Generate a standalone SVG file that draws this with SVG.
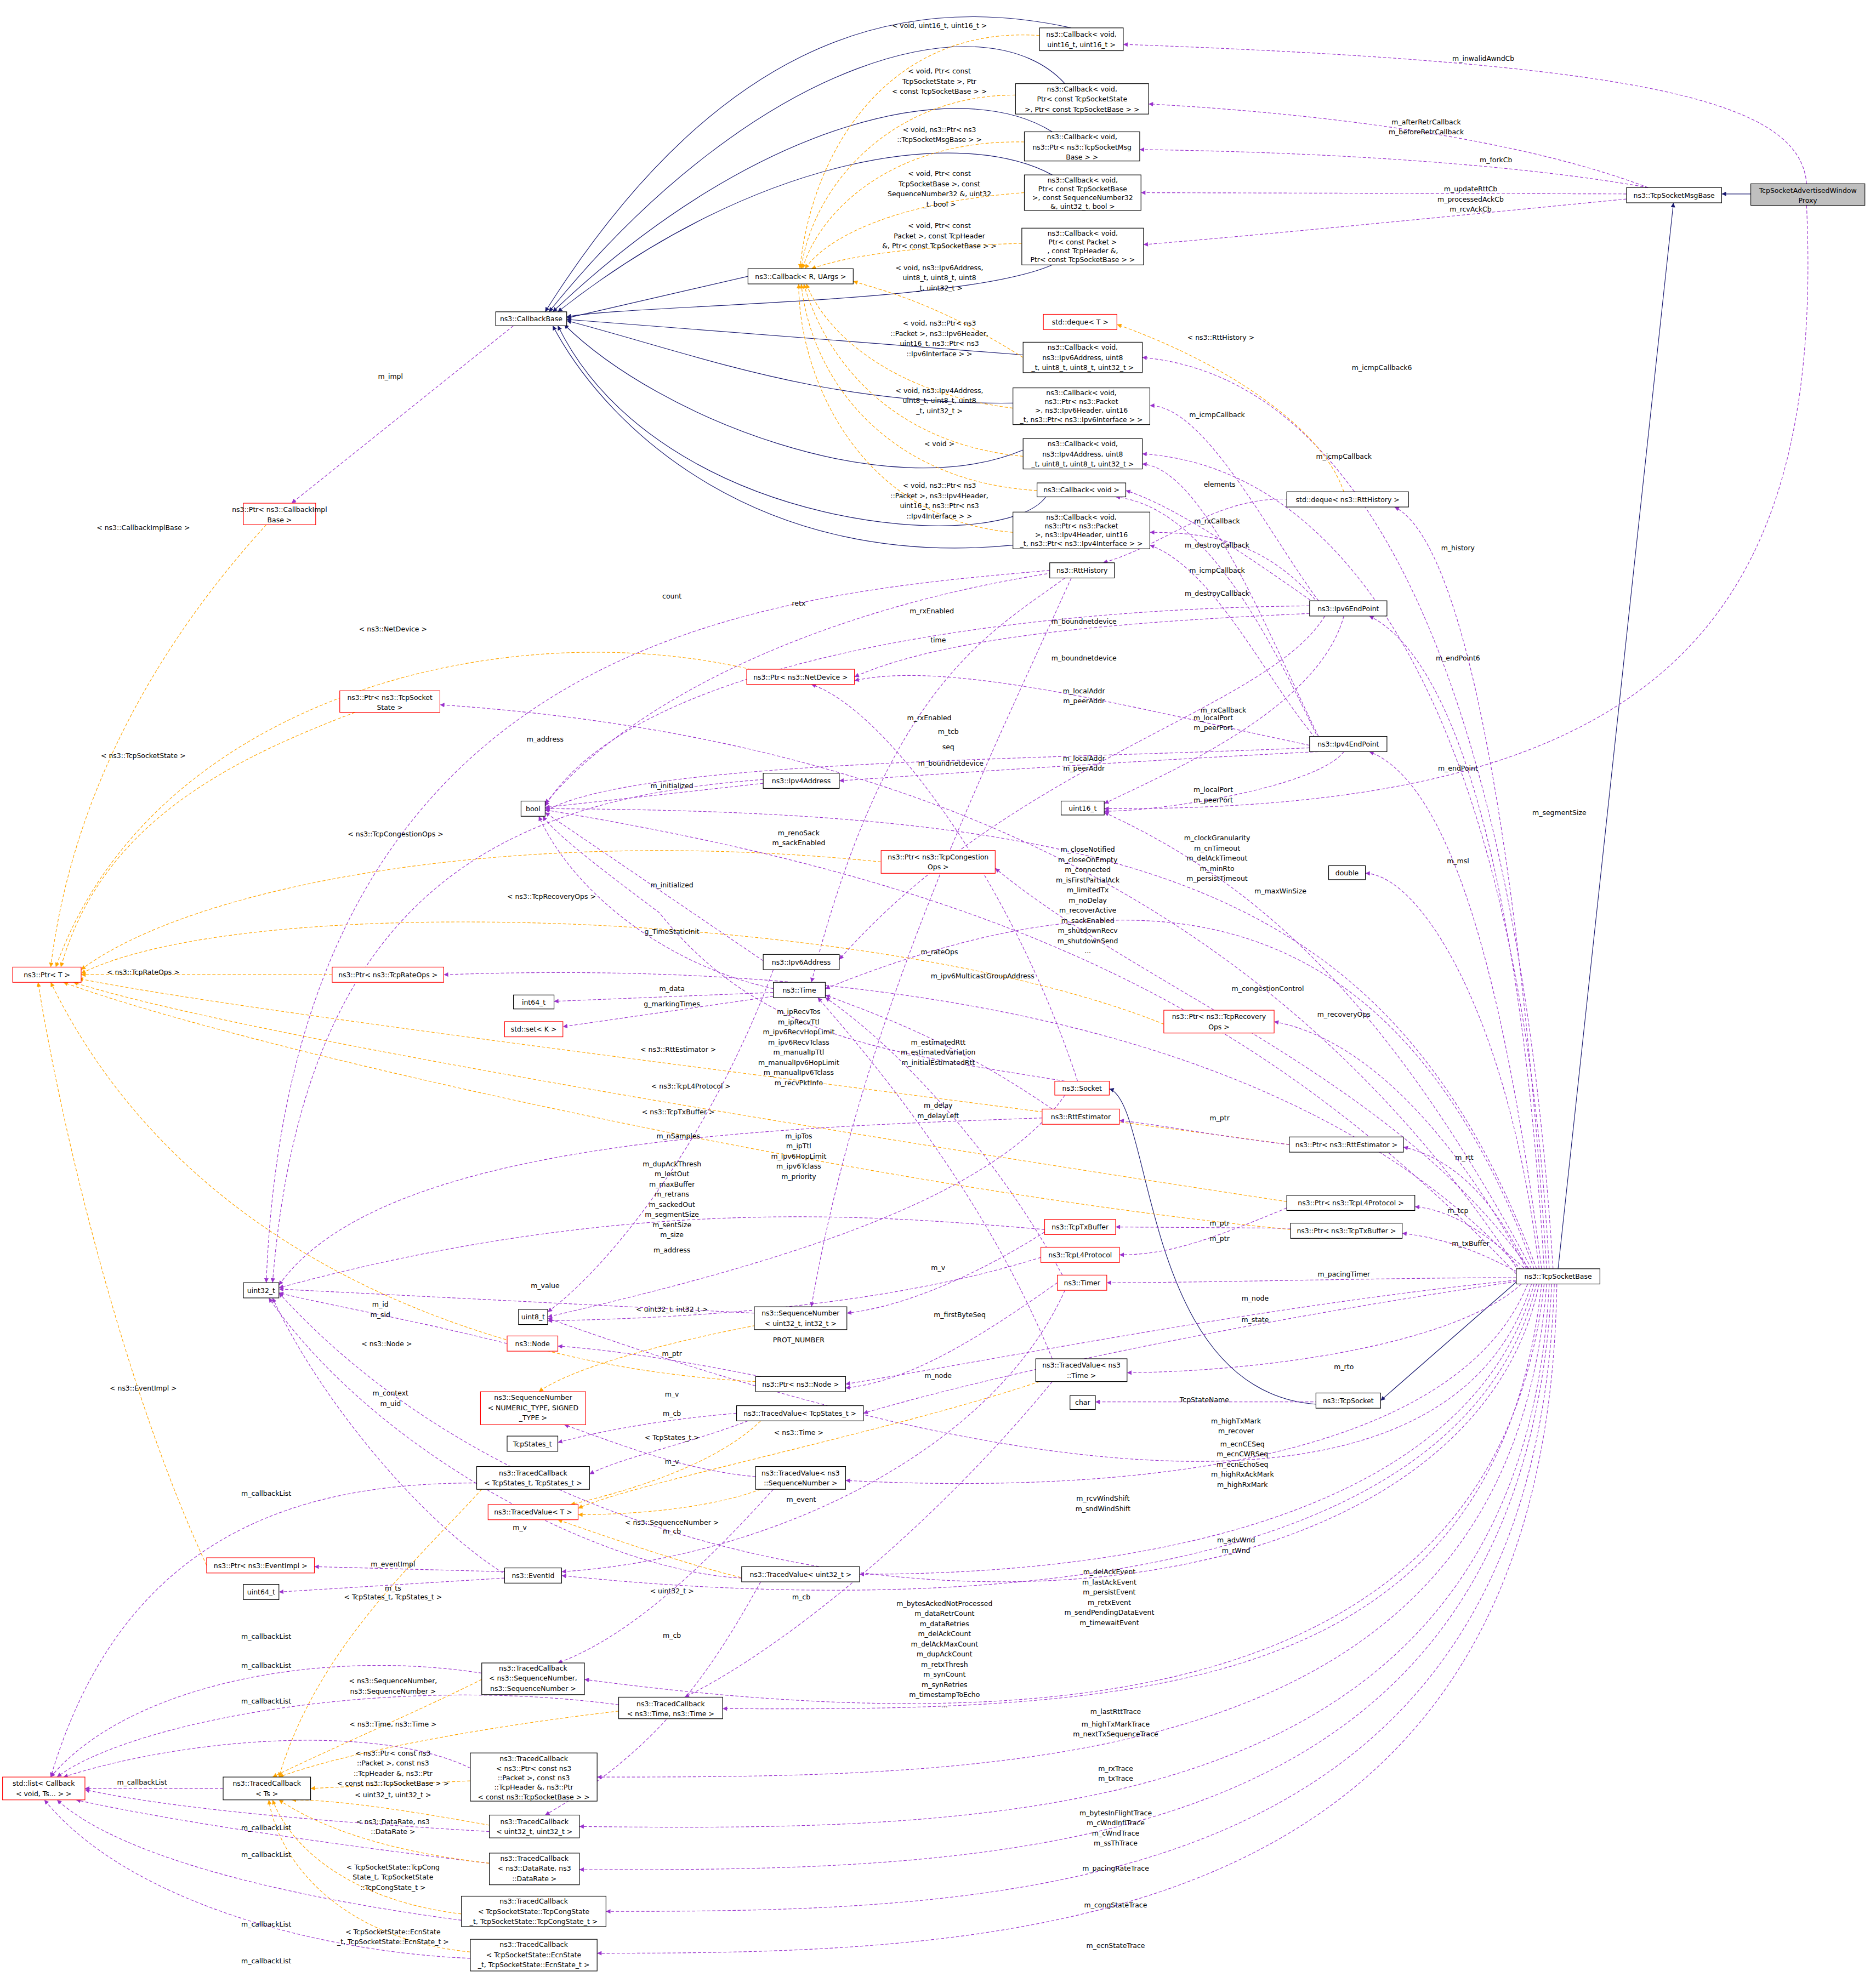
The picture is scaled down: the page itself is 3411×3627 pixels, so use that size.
<svg xmlns="http://www.w3.org/2000/svg" width="3411" height="3627" viewBox="0 0 3411 3627">
<style>
.b{fill:#fff;stroke:#000;stroke-width:0.5}
.r{fill:#fff;stroke:#f00;stroke-width:0.5}
.g{fill:#bfbfbf;stroke:#000;stroke-width:0.5}
text{font-family:"DejaVu Sans","Liberation Sans",sans-serif;font-size:5.4px;fill:#000}
.t{text-anchor:middle}
.p{fill:none;stroke:#9a32cd;stroke-width:0.5;stroke-dasharray:2.5,1.5;marker-end:url(#mp)}
.o{fill:none;stroke:#ffa500;stroke-width:0.5;stroke-dasharray:2.5,1.5;marker-end:url(#mo)}
.n{fill:none;stroke:#191970;stroke-width:0.5;marker-end:url(#mn)}
</style>
<defs>
<marker id="mp" markerUnits="userSpaceOnUse" viewBox="0 0 10 10" refX="10" refY="5" markerWidth="4.5" markerHeight="3.5" orient="auto"><path d="M0,0L10,5L0,10z" fill="#9a32cd"/></marker>
<marker id="mo" markerUnits="userSpaceOnUse" viewBox="0 0 10 10" refX="10" refY="5" markerWidth="4.5" markerHeight="3.5" orient="auto"><path d="M0,0L10,5L0,10z" fill="#ffa500"/></marker>
<marker id="mn" markerUnits="userSpaceOnUse" viewBox="0 0 10 10" refX="10" refY="5" markerWidth="4.5" markerHeight="3.5" orient="auto"><path d="M0,0L10,5L0,10z" fill="#191970"/></marker>
</defs>
<rect width="3411" height="3627" fill="#fff"/>
<g transform="scale(2.3125)">
<g id="edges">
<path class="n" d="M1381,153L1358,153"/>
<path class="n" d="M1229,1001L1320,160"/>
<path class="n" d="M1200,1008L1089,1105"/>
<path class="n" d="M1040,1108C900,1100 910,870 875,859"/>
<path class="n" d="M845,22C700,-10 560,40 430,246"/>
<path class="n" d="M840,66C780,0 600,40 433,246"/>
<path class="n" d="M830,104C760,60 600,90 436,246"/>
<path class="n" d="M830,138C760,100 600,120 440,246"/>
<path class="n" d="M830,209C760,240 500,240 447,250"/>
<path class="n" d="M590,218L447,251"/>
<path class="n" d="M807,280L447,252"/>
<path class="n" d="M800,318C650,320 550,280 447,253"/>
<path class="n" d="M807,355C700,400 520,330 445,256"/>
<path class="n" d="M825,392C790,440 520,420 440,257"/>
<path class="n" d="M800,430C600,450 480,340 436,257"/>
<path class="o" d="M820,28C700,20 640,120 631,212"/>
<path class="o" d="M801,75C700,75 640,150 632,212"/>
<path class="o" d="M808,112C700,110 645,170 633,212"/>
<path class="o" d="M808,152C700,160 650,190 635,212"/>
<path class="o" d="M806,192C700,195 660,205 640,212"/>
<path class="o" d="M807,282C740,240 700,230 673,222"/>
<path class="o" d="M799,322C700,310 650,260 636,224"/>
<path class="o" d="M807,360C700,350 650,280 634,224"/>
<path class="o" d="M818,387C700,380 640,300 632,224"/>
<path class="o" d="M799,420C680,410 630,300 630,224"/>
<path class="p" d="M1425,145C1420,80 1300,50 886,35"/>
<path class="p" d="M1300,148C1200,110 1050,90 906,82"/>
<path class="p" d="M1300,148C1200,130 1050,120 899,118"/>
<path class="p" d="M1283,153L900,152"/>
<path class="p" d="M1283,157C1150,170 1000,185 902,193"/>
<path class="p" d="M1225,1001C1200,600 1100,300 901,282"/>
<path class="p" d="M1222,1001C1200,600 1080,370 901,358"/>
<path class="p" d="M1220,1001C1200,700 1160,430 1100,400"/>
<path class="p" d="M1218,1001C1200,700 1150,520 1080,486"/>
<path class="p" d="M1216,1001C1190,800 1150,620 1080,593"/>
<path class="p" d="M1425,162C1440,500 1300,640 871,638"/>
<path class="p" d="M1214,1001C1190,800 1120,690 1077,689"/>
<path class="p" d="M1212,1001C1100,700 900,640 430,638"/>
<path class="p" d="M1210,1001C1100,700 900,680 651,780"/>
<path class="p" d="M1208,1001C1100,800 1000,700 871,641"/>
<path class="p" d="M1206,1001C1100,850 900,780 785,685"/>
<path class="p" d="M1204,1001C1150,900 1080,820 1005,806"/>
<path class="p" d="M1205,1001C1180,950 1150,915 1107,905"/>
<path class="p" d="M1205,1003C1180,980 1150,955 1116,952"/>
<path class="p" d="M1200,1005C1180,995 1150,978 1106,973"/>
<path class="p" d="M1196,1008C1100,1008 950,1012 873,1012"/>
<path class="p" d="M1196,1010C1000,1030 800,1070 667,1092"/>
<path class="p" d="M1196,1011C1000,1040 800,1080 681,1115"/>
<path class="p" d="M1200,1013C1150,1060 1000,1082 889,1083"/>
<path class="p" d="M1205,1013C1150,1150 900,1180 667,1168"/>
<path class="p" d="M1208,1013C1150,1200 850,1190 432,1040"/>
<path class="p" d="M1210,1013C1150,1230 800,1242 678,1242"/>
<path class="p" d="M1212,1013C1150,1270 700,1270 443,1243"/>
<path class="p" d="M1214,1013C1150,1320 500,1330 220,1020"/>
<path class="p" d="M1216,1013C1180,1340 900,1350 570,1348"/>
<path class="p" d="M1218,1013C1180,1360 800,1370 461,1325"/>
<path class="p" d="M1220,1013C1190,1400 800,1402 471,1402"/>
<path class="p" d="M1222,1013C1200,1440 800,1445 457,1441"/>
<path class="p" d="M1224,1013C1200,1470 800,1476 457,1475"/>
<path class="p" d="M1226,1013C1210,1500 800,1508 478,1508"/>
<path class="p" d="M1228,1013C1220,1530 800,1541 471,1541"/>
<path class="p" d="M1040,1106L864,1106"/>
<path class="p" d="M1040,474C1000,420 950,320 907,320"/>
<path class="p" d="M1040,476C1000,430 960,420 907,420"/>
<path class="p" d="M1040,478C1000,450 930,400 888,387"/>
<path class="p" d="M1040,581C1000,500 950,370 901,366"/>
<path class="p" d="M1040,583C1000,500 950,400 880,392"/>
<path class="p" d="M1040,585C1000,540 960,450 907,430"/>
<path class="p" d="M1033,484C900,490 750,500 674,534"/>
<path class="p" d="M1033,588C900,560 750,520 674,537"/>
<path class="p" d="M1033,478C800,480 500,520 430,636"/>
<path class="p" d="M1033,590C800,600 500,600 430,640"/>
<path class="p" d="M1045,486C1000,560 800,600 662,757"/>
<path class="p" d="M1040,593C900,600 750,610 662,616"/>
<path class="p" d="M1060,486C1040,560 920,610 871,634"/>
<path class="p" d="M1060,593C1040,620 920,640 871,640"/>
<path class="p" d="M1020,394C960,390 920,430 870,444"/>
<path class="o" d="M1060,388C1040,330 950,280 881,256"/>
<path class="p" d="M828,450C600,470 230,500 210,1012"/>
<path class="p" d="M830,452C650,480 500,550 430,634"/>
<path class="p" d="M840,456C780,500 700,540 640,775"/>
<path class="p" d="M845,456C780,600 680,800 640,1031"/>
<path class="p" d="M405,257L230,397"/>
<path class="o" d="M210,414C150,480 60,600 40,763"/>
<path class="o" d="M600,530C400,480 120,550 44,763"/>
<path class="o" d="M280,562C180,600 80,650 48,763"/>
<path class="p" d="M602,615C400,630 240,700 215,1012"/>
<path class="p" d="M602,618L430,637"/>
<path class="p" d="M602,758L430,641"/>
<path class="o" d="M695,680C400,650 150,700 64,765"/>
<path class="p" d="M1196,1005C1000,800 800,700 430,639"/>
<path class="p" d="M1198,1003C1000,700 700,580 347,556"/>
<path class="p" d="M850,853C800,700 700,560 640,540"/>
<path class="o" d="M918,808C700,720 200,700 64,768"/>
<path class="o" d="M262,769L64,769"/>
<path class="p" d="M1200,1002C1000,780 600,760 350,769"/>
<path class="p" d="M610,780C520,760 450,700 425,644"/>
<path class="p" d="M610,783L437,790"/>
<path class="p" d="M610,786L444,810"/>
<path class="p" d="M840,853C700,830 600,820 520,720 C480,690 440,660 428,644"/>
<path class="p" d="M830,875C750,820 690,800 651,785"/>
<path class="o" d="M1017,903C700,860 200,800 62,772"/>
<path class="p" d="M1017,903C950,895 920,888 883,884"/>
<path class="o" d="M1015,948C700,900 200,820 58,775"/>
<path class="o" d="M1018,970C700,940 200,830 50,775"/>
<path class="p" d="M1018,969L880,968"/>
<path class="p" d="M1015,953C950,980 920,990 883,990"/>
<path class="p" d="M822,882C600,890 300,900 220,1014"/>
<path class="p" d="M838,1006C780,900 700,820 651,787"/>
<path class="p" d="M840,864C780,950 600,1000 432,1039"/>
<path class="p" d="M824,970C700,960 500,940 220,1016"/>
<path class="p" d="M610,765C560,900 480,1000 432,1035"/>
<path class="p" d="M830,1072C780,950 700,850 645,787"/>
<path class="p" d="M595,1036L220,1017"/>
<path class="o" d="M600,1045C520,1060 450,1080 425,1098"/>
<path class="p" d="M824,972C780,1000 720,1030 668,1036"/>
<path class="p" d="M400,1060C320,1040 260,1030 220,1020"/>
<path class="p" d="M821,992C700,1030 550,1040 432,1042"/>
<path class="o" d="M596,1090C400,1080 150,1000 40,775"/>
<path class="p" d="M600,1086C520,1070 470,1064 440,1062"/>
<path class="p" d="M834,1012C780,1050 720,1090 667,1095"/>
<path class="p" d="M400,1243C330,1200 250,1100 215,1024"/>
<path class="p" d="M581,1115C520,1120 470,1130 440,1138"/>
<path class="p" d="M590,1121C540,1140 490,1150 465,1163"/>
<path class="o" d="M600,1121C560,1160 480,1180 450,1187"/>
<path class="o" d="M820,1090C700,1130 500,1170 456,1190"/>
<path class="p" d="M596,1165C540,1160 490,1140 445,1124"/>
<path class="o" d="M600,1175C560,1190 500,1195 456,1195"/>
<path class="p" d="M376,1170C250,1170 100,1200 40,1402"/>
<path class="p" d="M840,1018C780,1150 600,1230 443,1240"/>
<path class="p" d="M610,1175C560,1230 500,1290 440,1312"/>
<path class="p" d="M585,1245C480,1240 300,1150 212,1024"/>
<path class="o" d="M163,1235C100,1100 50,900 30,775"/>
<path class="p" d="M398,1240L248,1236"/>
<path class="p" d="M398,1245L220,1256"/>
<path class="o" d="M600,1248C560,1240 500,1220 440,1199"/>
<path class="o" d="M380,1175C330,1230 250,1300 220,1402"/>
<path class="p" d="M830,1090C740,1200 620,1300 540,1339"/>
<path class="p" d="M600,1248C560,1320 520,1380 430,1432"/>
<path class="p" d="M380,1320C250,1300 100,1330 40,1402"/>
<path class="p" d="M488,1345C300,1320 100,1360 45,1402"/>
<path class="p" d="M371,1395C300,1360 150,1370 50,1402"/>
<path class="p" d="M386,1445C300,1440 150,1430 67,1412"/>
<path class="p" d="M386,1470C300,1460 150,1440 60,1420"/>
<path class="p" d="M364,1515C250,1500 100,1470 45,1420"/>
<path class="p" d="M371,1545C250,1540 100,1500 35,1420"/>
<path class="o" d="M380,1325C330,1350 260,1380 215,1402"/>
<path class="o" d="M488,1350C400,1360 280,1380 220,1402"/>
<path class="o" d="M371,1405L245,1411"/>
<path class="o" d="M386,1440C330,1430 270,1420 230,1420"/>
<path class="o" d="M386,1470C300,1460 250,1440 220,1420"/>
<path class="o" d="M364,1510C280,1500 230,1460 215,1420"/>
<path class="o" d="M371,1540C270,1530 220,1470 212,1420"/>
<path class="p" d="M176,1411L67,1411"/>
</g>
<g id="labels">
<text class="t" x="1170" y="48">m_inwalidAwndCb</text>
<text class="t" x="1125" y="98">m_afterRetrCallback</text>
<text class="t" x="1125" y="106">m_beforeRetrCallback</text>
<text class="t" x="1180" y="128">m_forkCb</text>
<text class="t" x="1160" y="151">m_updateRttCb</text>
<text class="t" x="1160" y="159">m_processedAckCb</text>
<text class="t" x="1160" y="167">m_rcvAckCb</text>
<text class="t" x="1090" y="292">m_icmpCallback6</text>
<text class="t" x="1060" y="362">m_icmpCallback</text>
<text class="t" x="1150" y="434">m_history</text>
<text class="t" x="1150" y="521">m_endPoint6</text>
<text class="t" x="1150" y="608">m_endPoint</text>
<text class="t" x="1230" y="643">m_segmentSize</text>
<text class="t" x="1150" y="681">m_msl</text>
<text class="t" x="1010" y="705">m_maxWinSize</text>
<text class="t" x="960" y="663">m_clockGranularity</text><text class="t" x="960" y="671">m_cnTimeout</text><text class="t" x="960" y="679">m_delAckTimeout</text><text class="t" x="960" y="687">m_minRto</text><text class="t" x="960" y="695">m_persistTimeout</text>
<text class="t" x="858" y="672">m_closeNotified</text><text class="t" x="858" y="680">m_closeOnEmpty</text><text class="t" x="858" y="688">m_connected</text><text class="t" x="858" y="696">m_isFirstPartialAck</text><text class="t" x="858" y="704">m_limitedTx</text><text class="t" x="858" y="712">m_noDelay</text><text class="t" x="858" y="720">m_recoverActive</text><text class="t" x="858" y="728">m_sackEnabled</text><text class="t" x="858" y="736">m_shutdownRecv</text><text class="t" x="858" y="744">m_shutdownSend</text><text class="t" x="858" y="752">...</text>
<text class="t" x="1000" y="782">m_congestionControl</text>
<text class="t" x="1060" y="802">m_recoveryOps</text>
<text class="t" x="775" y="772">m_ipv6MulticastGroupAddress</text>
<text class="t" x="1155" y="915">m_rtt</text>
<text class="t" x="1150" y="957">m_tcp</text>
<text class="t" x="1160" y="983">m_txBuffer</text>
<text class="t" x="1060" y="1007">m_pacingTimer</text>
<text class="t" x="990" y="1026">m_node</text>
<text class="t" x="990" y="1043">m_state</text>
<text class="t" x="1060" y="1080">m_rto</text>
<text class="t" x="975" y="1123">m_highTxMark</text><text class="t" x="975" y="1131">m_recover</text>
<text class="t" x="980" y="1141">m_ecnCESeq</text><text class="t" x="980" y="1149">m_ecnCWRSeq</text><text class="t" x="980" y="1157">m_ecnEchoSeq</text><text class="t" x="980" y="1165">m_highRxAckMark</text><text class="t" x="980" y="1173">m_highRxMark</text>
<text class="t" x="870" y="1184">m_rcvWindShift</text><text class="t" x="870" y="1192">m_sndWindShift</text>
<text class="t" x="975" y="1217">m_advWnd</text><text class="t" x="975" y="1225">m_rWnd</text>
<text class="t" x="875" y="1242">m_delAckEvent</text><text class="t" x="875" y="1250">m_lastAckEvent</text><text class="t" x="875" y="1258">m_persistEvent</text><text class="t" x="875" y="1266">m_retxEvent</text><text class="t" x="875" y="1274">m_sendPendingDataEvent</text><text class="t" x="875" y="1282">m_timewaitEvent</text>
<text class="t" x="745" y="1267">m_bytesAckedNotProcessed</text><text class="t" x="745" y="1275">m_dataRetrCount</text><text class="t" x="745" y="1283">m_dataRetries</text><text class="t" x="745" y="1291">m_delAckCount</text><text class="t" x="745" y="1299">m_delAckMaxCount</text><text class="t" x="745" y="1307">m_dupAckCount</text><text class="t" x="745" y="1315">m_retxThresh</text><text class="t" x="745" y="1323">m_synCount</text><text class="t" x="745" y="1331">m_synRetries</text><text class="t" x="745" y="1339">m_timestampToEcho</text><text class="t" x="745" y="1347">...</text>
<text class="t" x="880" y="1352">m_lastRttTrace</text>
<text class="t" x="880" y="1362">m_highTxMarkTrace</text><text class="t" x="880" y="1370">m_nextTxSequenceTrace</text>
<text class="t" x="880" y="1397">m_rxTrace</text><text class="t" x="880" y="1405">m_txTrace</text>
<text class="t" x="880" y="1432">m_bytesInFlightTrace</text><text class="t" x="880" y="1440">m_cWndInflTrace</text><text class="t" x="880" y="1448">m_cWndTrace</text><text class="t" x="880" y="1456">m_ssThTrace</text>
<text class="t" x="880" y="1476">m_pacingRateTrace</text>
<text class="t" x="880" y="1505">m_congStateTrace</text>
<text class="t" x="880" y="1537">m_ecnStateTrace</text>
<text class="t" x="950" y="1106">TcpStateName</text>
<text class="t" x="960" y="329">m_icmpCallback</text>
<text class="t" x="960" y="413">m_rxCallback</text>
<text class="t" x="960" y="432">m_destroyCallback</text>
<text class="t" x="960" y="452">m_icmpCallback</text>
<text class="t" x="960" y="470">m_destroyCallback</text>
<text class="t" x="965" y="562">m_rxCallback</text>
<text class="t" x="855" y="492">m_boundnetdevice</text>
<text class="t" x="855" y="521">m_boundnetdevice</text>
<text class="t" x="735" y="484">m_rxEnabled</text>
<text class="t" x="733" y="568">m_rxEnabled</text>
<text class="t" x="855" y="547">m_localAddr</text><text class="t" x="855" y="555">m_peerAddr</text>
<text class="t" x="855" y="600">m_localAddr</text><text class="t" x="855" y="608">m_peerAddr</text>
<text class="t" x="957" y="568">m_localPort</text><text class="t" x="957" y="576">m_peerPort</text>
<text class="t" x="957" y="625">m_localPort</text><text class="t" x="957" y="633">m_peerPort</text>
<text class="t" x="962" y="384">elements</text>
<text class="t" x="963" y="268">&lt; ns3::RttHistory &gt;</text>
<text class="t" x="530" y="472">count</text>
<text class="t" x="630" y="478">retx</text>
<text class="t" x="740" y="507">time</text>
<text class="t" x="748" y="591">seq</text>
<text class="t" x="308" y="299">m_impl</text>
<text class="t" x="113" y="418">&lt; ns3::CallbackImplBase &gt;</text>
<text class="t" x="310" y="498">&lt; ns3::NetDevice &gt;</text>
<text class="t" x="113" y="598">&lt; ns3::TcpSocketState &gt;</text>
<text class="t" x="430" y="585">m_address</text>
<text class="t" x="530" y="622">m_initialized</text>
<text class="t" x="530" y="700">m_initialized</text>
<text class="t" x="312" y="660">&lt; ns3::TcpCongestionOps &gt;</text>
<text class="t" x="630" y="659">m_renoSack</text><text class="t" x="630" y="667">m_sackEnabled</text>
<text class="t" x="748" y="579">m_tcb</text>
<text class="t" x="750" y="604">m_boundnetdevice</text>
<text class="t" x="435" y="709">&lt; ns3::TcpRecoveryOps &gt;</text>
<text class="t" x="113" y="769">&lt; ns3::TcpRateOps &gt;</text>
<text class="t" x="741" y="753">m_rateOps</text>
<text class="t" x="530" y="737">g_TimeStaticInit</text>
<text class="t" x="530" y="782">m_data</text>
<text class="t" x="530" y="794">g_markingTimes</text>
<text class="t" x="630" y="800">m_ipRecvTos</text><text class="t" x="630" y="808">m_ipRecvTtl</text><text class="t" x="630" y="816">m_ipv6RecvHopLimit</text><text class="t" x="630" y="824">m_ipv6RecvTclass</text><text class="t" x="630" y="832">m_manualIpTtl</text><text class="t" x="630" y="840">m_manualIpv6HopLimit</text><text class="t" x="630" y="848">m_manualIpv6Tclass</text><text class="t" x="630" y="856">m_recvPktInfo</text>
<text class="t" x="740" y="824">m_estimatedRtt</text><text class="t" x="740" y="832">m_estimatedVariation</text><text class="t" x="740" y="840">m_initialEstimatedRtt</text>
<text class="t" x="535" y="830">&lt; ns3::RttEstimator &gt;</text>
<text class="t" x="962" y="884">m_ptr</text>
<text class="t" x="545" y="859">&lt; ns3::TcpL4Protocol &gt;</text>
<text class="t" x="535" y="879">&lt; ns3::TcpTxBuffer &gt;</text>
<text class="t" x="962" y="967">m_ptr</text>
<text class="t" x="962" y="979">m_ptr</text>
<text class="t" x="535" y="898">m_nSamples</text>
<text class="t" x="740" y="874">m_delay</text><text class="t" x="740" y="882">m_delayLeft</text>
<text class="t" x="630" y="898">m_ipTos</text><text class="t" x="630" y="906">m_ipTtl</text><text class="t" x="630" y="914">m_ipv6HopLimit</text><text class="t" x="630" y="922">m_ipv6Tclass</text><text class="t" x="630" y="930">m_priority</text>
<text class="t" x="530" y="920">m_dupAckThresh</text><text class="t" x="530" y="928">m_lostOut</text><text class="t" x="530" y="936">m_maxBuffer</text><text class="t" x="530" y="944">m_retrans</text><text class="t" x="530" y="952">m_sackedOut</text><text class="t" x="530" y="960">m_segmentSize</text><text class="t" x="530" y="968">m_sentSize</text><text class="t" x="530" y="976">m_size</text>
<text class="t" x="530" y="988">m_address</text>
<text class="t" x="740" y="1002">m_v</text>
<text class="t" x="430" y="1016">m_value</text>
<text class="t" x="530" y="1035">&lt; uint32_t, int32_t &gt;</text>
<text class="t" x="757" y="1039">m_firstByteSeq</text>
<text class="t" x="300" y="1031">m_id</text><text class="t" x="300" y="1039">m_sid</text>
<text class="t" x="630" y="1059">PROT_NUMBER</text>
<text class="t" x="305" y="1062">&lt; ns3::Node &gt;</text>
<text class="t" x="530" y="1070">m_ptr</text>
<text class="t" x="740" y="1087">m_node</text>
<text class="t" x="308" y="1101">m_context</text><text class="t" x="308" y="1109">m_uid</text>
<text class="t" x="530" y="1102">m_v</text>
<text class="t" x="530" y="1117">m_cb</text>
<text class="t" x="530" y="1136">&lt; TcpStates_t &gt;</text>
<text class="t" x="630" y="1132">&lt; ns3::Time &gt;</text>
<text class="t" x="530" y="1155">m_v</text>
<text class="t" x="530" y="1203">&lt; ns3::SequenceNumber &gt;</text>
<text class="t" x="210" y="1180">m_callbackList</text>
<text class="t" x="632" y="1185">m_event</text>
<text class="t" x="530" y="1210">m_cb</text>
<text class="t" x="410" y="1207">m_v</text>
<text class="t" x="113" y="1097">&lt; ns3::EventImpl &gt;</text>
<text class="t" x="310" y="1236">m_eventImpl</text>
<text class="t" x="310" y="1255">m_ts</text>
<text class="t" x="530" y="1257">&lt; uint32_t &gt;</text>
<text class="t" x="310" y="1262">&lt; TcpStates_t, TcpStates_t &gt;</text>
<text class="t" x="632" y="1262">m_cb</text>
<text class="t" x="530" y="1292">m_cb</text>
<text class="t" x="210" y="1293">m_callbackList</text>
<text class="t" x="210" y="1316">m_callbackList</text>
<text class="t" x="210" y="1344">m_callbackList</text>
<text class="t" x="210" y="1444">m_callbackList</text>
<text class="t" x="210" y="1465">m_callbackList</text>
<text class="t" x="210" y="1520">m_callbackList</text>
<text class="t" x="210" y="1549">m_callbackList</text>
<text class="t" x="112" y="1408">m_callbackList</text>
<text class="t" x="310" y="1328">&lt; ns3::SequenceNumber,</text><text class="t" x="310" y="1336">ns3::SequenceNumber &gt;</text>
<text class="t" x="310" y="1362">&lt; ns3::Time, ns3::Time &gt;</text>
<text class="t" x="310" y="1385">&lt; ns3::Ptr&lt; const ns3</text><text class="t" x="310" y="1393">::Packet &gt;, const ns3</text><text class="t" x="310" y="1401">::TcpHeader &amp;, ns3::Ptr</text><text class="t" x="310" y="1409">&lt; const ns3::TcpSocketBase &gt; &gt;</text>
<text class="t" x="310" y="1418">&lt; uint32_t, uint32_t &gt;</text>
<text class="t" x="310" y="1439">&lt; ns3::DataRate, ns3</text><text class="t" x="310" y="1447">::DataRate &gt;</text>
<text class="t" x="310" y="1475">&lt; TcpSocketState::TcpCong</text><text class="t" x="310" y="1483">State_t, TcpSocketState</text><text class="t" x="310" y="1491">::TcpCongState_t &gt;</text>
<text class="t" x="310" y="1526">&lt; TcpSocketState::EcnState</text><text class="t" x="310" y="1534">_t, TcpSocketState::EcnState_t &gt;</text>
<text class="t" x="741" y="22">&lt; void, uint16_t, uint16_t &gt;</text>
<text class="t" x="741" y="58">&lt; void, Ptr&lt; const</text><text class="t" x="741" y="66">TcpSocketState &gt;, Ptr</text><text class="t" x="741" y="74">&lt; const TcpSocketBase &gt; &gt;</text>
<text class="t" x="741" y="104">&lt; void, ns3::Ptr&lt; ns3</text><text class="t" x="741" y="112">::TcpSocketMsgBase &gt; &gt;</text>
<text class="t" x="741" y="139">&lt; void, Ptr&lt; const</text><text class="t" x="741" y="147">TcpSocketBase &gt;, const</text><text class="t" x="741" y="155">SequenceNumber32 &amp;, uint32</text><text class="t" x="741" y="163">_t, bool &gt;</text>
<text class="t" x="741" y="180">&lt; void, Ptr&lt; const</text><text class="t" x="741" y="188">Packet &gt;, const TcpHeader</text><text class="t" x="741" y="196">&amp;, Ptr&lt; const TcpSocketBase &gt; &gt;</text>
<text class="t" x="741" y="213">&lt; void, ns3::Ipv6Address,</text><text class="t" x="741" y="221">uint8_t, uint8_t, uint8</text><text class="t" x="741" y="229">_t, uint32_t &gt;</text>
<text class="t" x="741" y="257">&lt; void, ns3::Ptr&lt; ns3</text><text class="t" x="741" y="265">::Packet &gt;, ns3::Ipv6Header,</text><text class="t" x="741" y="273">uint16_t, ns3::Ptr&lt; ns3</text><text class="t" x="741" y="281">::Ipv6Interface &gt; &gt;</text>
<text class="t" x="741" y="310">&lt; void, ns3::Ipv4Address,</text><text class="t" x="741" y="318">uint8_t, uint8_t, uint8</text><text class="t" x="741" y="326">_t, uint32_t &gt;</text>
<text class="t" x="741" y="352">&lt; void &gt;</text>
<text class="t" x="741" y="385">&lt; void, ns3::Ptr&lt; ns3</text><text class="t" x="741" y="393">::Packet &gt;, ns3::Ipv4Header,</text><text class="t" x="741" y="401">uint16_t, ns3::Ptr&lt; ns3</text><text class="t" x="741" y="409">::Ipv4Interface &gt; &gt;</text>
</g>
<g id="n1"><rect class="g" x="1381" y="145" width="90" height="17"/><text class="t" x="1426" y="152">TcpSocketAdvertisedWindow</text><text class="t" x="1426" y="160">Proxy</text></g>
<g id="n2"><rect class="b" x="1283" y="148" width="75" height="12"/><text class="t" x="1320.5" y="156">ns3::TcpSocketMsgBase</text></g>
<g id="n3"><rect class="b" x="820" y="22" width="66" height="18"/><text class="t" x="853" y="29">ns3::Callback&lt; void,</text><text class="t" x="853" y="37">uint16_t, uint16_t &gt;</text></g>
<g id="n4"><rect class="b" x="801" y="66" width="105" height="24"/><text class="t" x="853.5" y="72">ns3::Callback&lt; void,</text><text class="t" x="853.5" y="80">Ptr&lt; const TcpSocketState</text><text class="t" x="853.5" y="88">&gt;, Ptr&lt; const TcpSocketBase &gt; &gt;</text></g>
<g id="n5"><rect class="b" x="808" y="104" width="91" height="23"/><text class="t" x="853.5" y="110">ns3::Callback&lt; void,</text><text class="t" x="853.5" y="118">ns3::Ptr&lt; ns3::TcpSocketMsg</text><text class="t" x="853.5" y="126">Base &gt; &gt;</text></g>
<g id="n6"><rect class="b" x="808" y="138" width="92" height="28"/><text class="t" x="854" y="143.8">ns3::Callback&lt; void,</text><text class="t" x="854" y="150.8">Ptr&lt; const TcpSocketBase</text><text class="t" x="854" y="157.8">&gt;, const SequenceNumber32</text><text class="t" x="854" y="164.8">&amp;, uint32_t, bool &gt;</text></g>
<g id="n7"><rect class="b" x="806" y="180" width="96" height="29"/><text class="t" x="854" y="185.8">ns3::Callback&lt; void,</text><text class="t" x="854" y="192.8">Ptr&lt; const Packet &gt;</text><text class="t" x="854" y="199.8">, const TcpHeader &amp;,</text><text class="t" x="854" y="206.8">Ptr&lt; const TcpSocketBase &gt; &gt;</text></g>
<g id="n8"><rect class="b" x="590" y="212" width="83" height="12"/><text class="t" x="631.5" y="220">ns3::Callback&lt; R, UArgs &gt;</text></g>
<g id="n9"><rect class="b" x="391" y="246" width="56" height="11"/><text class="t" x="419" y="253.5">ns3::CallbackBase</text></g>
<g id="n10"><rect class="r" x="823" y="248" width="58" height="12"/><text class="t" x="852" y="256">std::deque&lt; T &gt;</text></g>
<g id="n11"><rect class="b" x="807" y="270" width="94" height="24"/><text class="t" x="854" y="276">ns3::Callback&lt; void,</text><text class="t" x="854" y="284">ns3::Ipv6Address, uint8</text><text class="t" x="854" y="292">_t, uint8_t, uint8_t, uint32_t &gt;</text></g>
<g id="n12"><rect class="b" x="799" y="306" width="108" height="29"/><text class="t" x="853" y="311.8">ns3::Callback&lt; void,</text><text class="t" x="853" y="318.8">ns3::Ptr&lt; ns3::Packet</text><text class="t" x="853" y="325.8">&gt;, ns3::Ipv6Header, uint16</text><text class="t" x="853" y="332.8">_t, ns3::Ptr&lt; ns3::Ipv6Interface &gt; &gt;</text></g>
<g id="n13"><rect class="b" x="807" y="346" width="94" height="24"/><text class="t" x="854" y="352">ns3::Callback&lt; void,</text><text class="t" x="854" y="360">ns3::Ipv4Address, uint8</text><text class="t" x="854" y="368">_t, uint8_t, uint8_t, uint32_t &gt;</text></g>
<g id="n14"><rect class="b" x="818" y="381" width="70" height="11"/><text class="t" x="853" y="388.5">ns3::Callback&lt; void &gt;</text></g>
<g id="n15"><rect class="b" x="1015" y="388" width="96" height="12"/><text class="t" x="1063" y="396">std::deque&lt; ns3::RttHistory &gt;</text></g>
<g id="n16"><rect class="b" x="799" y="404" width="108" height="29"/><text class="t" x="853" y="409.8">ns3::Callback&lt; void,</text><text class="t" x="853" y="416.8">ns3::Ptr&lt; ns3::Packet</text><text class="t" x="853" y="423.8">&gt;, ns3::Ipv4Header, uint16</text><text class="t" x="853" y="430.8">_t, ns3::Ptr&lt; ns3::Ipv4Interface &gt; &gt;</text></g>
<g id="n17"><rect class="r" x="192" y="397" width="57" height="17"/><text class="t" x="220.5" y="404">ns3::Ptr&lt; ns3::CallbackImpl</text><text class="t" x="220.5" y="412">Base &gt;</text></g>
<g id="n18"><rect class="b" x="828" y="444" width="51" height="12"/><text class="t" x="853.5" y="452">ns3::RttHistory</text></g>
<g id="n19"><rect class="b" x="1033" y="474" width="61" height="12"/><text class="t" x="1063.5" y="482">ns3::Ipv6EndPoint</text></g>
<g id="n20"><rect class="r" x="589" y="528" width="85" height="12"/><text class="t" x="631.5" y="536">ns3::Ptr&lt; ns3::NetDevice &gt;</text></g>
<g id="n21"><rect class="r" x="268" y="545" width="79" height="17"/><text class="t" x="307.5" y="552">ns3::Ptr&lt; ns3::TcpSocket</text><text class="t" x="307.5" y="560">State &gt;</text></g>
<g id="n22"><rect class="b" x="1033" y="581" width="61" height="12"/><text class="t" x="1063.5" y="589">ns3::Ipv4EndPoint</text></g>
<g id="n23"><rect class="b" x="602" y="610" width="60" height="12"/><text class="t" x="632" y="618">ns3::Ipv4Address</text></g>
<g id="n24"><rect class="b" x="411" y="632" width="19" height="12"/><text class="t" x="420.5" y="640">bool</text></g>
<g id="n25"><rect class="b" x="837" y="632" width="34" height="11"/><text class="t" x="854" y="639.5">uint16_t</text></g>
<g id="n26"><rect class="r" x="695" y="671" width="90" height="18"/><text class="t" x="740" y="678">ns3::Ptr&lt; ns3::TcpCongestion</text><text class="t" x="740" y="686">Ops &gt;</text></g>
<g id="n27"><rect class="b" x="1048" y="683" width="29" height="11"/><text class="t" x="1062.5" y="690.5">double</text></g>
<g id="n28"><rect class="b" x="602" y="753" width="60" height="12"/><text class="t" x="632" y="761">ns3::Ipv6Address</text></g>
<g id="n29"><rect class="r" x="10" y="763" width="54" height="12"/><text class="t" x="37" y="771">ns3::Ptr&lt; T &gt;</text></g>
<g id="n30"><rect class="r" x="262" y="763" width="88" height="12"/><text class="t" x="306" y="771">ns3::Ptr&lt; ns3::TcpRateOps &gt;</text></g>
<g id="n31"><rect class="b" x="610" y="775" width="41" height="12"/><text class="t" x="630.5" y="783">ns3::Time</text></g>
<g id="n32"><rect class="b" x="405" y="785" width="32" height="11"/><text class="t" x="421" y="792.5">int64_t</text></g>
<g id="n33"><rect class="r" x="398" y="806" width="46" height="12"/><text class="t" x="421" y="814">std::set&lt; K &gt;</text></g>
<g id="n34"><rect class="r" x="918" y="797" width="87" height="18"/><text class="t" x="961.5" y="804">ns3::Ptr&lt; ns3::TcpRecovery</text><text class="t" x="961.5" y="812">Ops &gt;</text></g>
<g id="n35"><rect class="r" x="832" y="853" width="43" height="11"/><text class="t" x="853.5" y="860.5">ns3::Socket</text></g>
<g id="n36"><rect class="r" x="822" y="875" width="61" height="12"/><text class="t" x="852.5" y="883">ns3::RttEstimator</text></g>
<g id="n37"><rect class="b" x="1017" y="897" width="90" height="12"/><text class="t" x="1062" y="905">ns3::Ptr&lt; ns3::RttEstimator &gt;</text></g>
<g id="n38"><rect class="b" x="1015" y="943" width="101" height="12"/><text class="t" x="1065.5" y="951">ns3::Ptr&lt; ns3::TcpL4Protocol &gt;</text></g>
<g id="n39"><rect class="r" x="824" y="962" width="56" height="12"/><text class="t" x="852" y="970">ns3::TcpTxBuffer</text></g>
<g id="n40"><rect class="b" x="1018" y="965" width="88" height="12"/><text class="t" x="1062" y="973">ns3::Ptr&lt; ns3::TcpTxBuffer &gt;</text></g>
<g id="n41"><rect class="r" x="821" y="984" width="62" height="12"/><text class="t" x="852" y="992">ns3::TcpL4Protocol</text></g>
<g id="n42"><rect class="b" x="1196" y="1001" width="66" height="12"/><text class="t" x="1229" y="1009">ns3::TcpSocketBase</text></g>
<g id="n43"><rect class="r" x="834" y="1006" width="39" height="12"/><text class="t" x="853.5" y="1014">ns3::Timer</text></g>
<g id="n44"><rect class="b" x="192" y="1012" width="28" height="12"/><text class="t" x="206" y="1020">uint32_t</text></g>
<g id="n45"><rect class="b" x="409" y="1033" width="23" height="12"/><text class="t" x="420.5" y="1041">uint8_t</text></g>
<g id="n46"><rect class="b" x="595" y="1031" width="73" height="18"/><text class="t" x="631.5" y="1038">ns3::SequenceNumber</text><text class="t" x="631.5" y="1046">&lt; uint32_t, int32_t &gt;</text></g>
<g id="n47"><rect class="r" x="400" y="1054" width="40" height="12"/><text class="t" x="420" y="1062">ns3::Node</text></g>
<g id="n48"><rect class="b" x="817" y="1072" width="72" height="18"/><text class="t" x="853" y="1079">ns3::TracedValue&lt; ns3</text><text class="t" x="853" y="1087">::Time &gt;</text></g>
<g id="n49"><rect class="b" x="596" y="1086" width="71" height="12"/><text class="t" x="631.5" y="1094">ns3::Ptr&lt; ns3::Node &gt;</text></g>
<g id="n50"><rect class="r" x="379" y="1098" width="83" height="26"/><text class="t" x="420.5" y="1104.5">ns3::SequenceNumber</text><text class="t" x="420.5" y="1112.5">&lt; NUMERIC_TYPE, SIGNED</text><text class="t" x="420.5" y="1120.5">_TYPE &gt;</text></g>
<g id="n51"><rect class="b" x="844" y="1101" width="20" height="11"/><text class="t" x="854" y="1108.5">char</text></g>
<g id="n52"><rect class="b" x="1038" y="1099" width="51" height="12"/><text class="t" x="1063.5" y="1107">ns3::TcpSocket</text></g>
<g id="n53"><rect class="b" x="581" y="1109" width="100" height="12"/><text class="t" x="631" y="1117">ns3::TracedValue&lt; TcpStates_t &gt;</text></g>
<g id="n54"><rect class="b" x="400" y="1133" width="40" height="12"/><text class="t" x="420" y="1141">TcpStates_t</text></g>
<g id="n55"><rect class="b" x="596" y="1157" width="71" height="18"/><text class="t" x="631.5" y="1164">ns3::TracedValue&lt; ns3</text><text class="t" x="631.5" y="1172">::SequenceNumber &gt;</text></g>
<g id="n56"><rect class="b" x="376" y="1157" width="89" height="18"/><text class="t" x="420.5" y="1164">ns3::TracedCallback</text><text class="t" x="420.5" y="1172">&lt; TcpStates_t, TcpStates_t &gt;</text></g>
<g id="n57"><rect class="r" x="385" y="1187" width="71" height="12"/><text class="t" x="420.5" y="1195">ns3::TracedValue&lt; T &gt;</text></g>
<g id="n58"><rect class="r" x="163" y="1229" width="85" height="12"/><text class="t" x="205.5" y="1237">ns3::Ptr&lt; ns3::EventImpl &gt;</text></g>
<g id="n59"><rect class="b" x="398" y="1237" width="45" height="12"/><text class="t" x="420.5" y="1245">ns3::EventId</text></g>
<g id="n60"><rect class="b" x="585" y="1236" width="93" height="12"/><text class="t" x="631.5" y="1244">ns3::TracedValue&lt; uint32_t &gt;</text></g>
<g id="n61"><rect class="b" x="192" y="1250" width="28" height="12"/><text class="t" x="206" y="1258">uint64_t</text></g>
<g id="n62"><rect class="b" x="380" y="1312" width="81" height="25"/><text class="t" x="420.5" y="1318">ns3::TracedCallback</text><text class="t" x="420.5" y="1326">&lt; ns3::SequenceNumber,</text><text class="t" x="420.5" y="1334">ns3::SequenceNumber &gt;</text></g>
<g id="n63"><rect class="b" x="488" y="1339" width="82" height="17"/><text class="t" x="529" y="1346">ns3::TracedCallback</text><text class="t" x="529" y="1354">&lt; ns3::Time, ns3::Time &gt;</text></g>
<g id="n64"><rect class="r" x="2" y="1402" width="65" height="18"/><text class="t" x="34.5" y="1409">std::list&lt; Callback</text><text class="t" x="34.5" y="1417">&lt; void, Ts... &gt; &gt;</text></g>
<g id="n65"><rect class="b" x="176" y="1402" width="69" height="18"/><text class="t" x="210.5" y="1409">ns3::TracedCallback</text><text class="t" x="210.5" y="1417">&lt; Ts &gt;</text></g>
<g id="n66"><rect class="b" x="371" y="1383" width="100" height="38"/><text class="t" x="421" y="1389.5">ns3::TracedCallback</text><text class="t" x="421" y="1397">&lt; ns3::Ptr&lt; const ns3</text><text class="t" x="421" y="1404.5">::Packet &gt;, const ns3</text><text class="t" x="421" y="1412">::TcpHeader &amp;, ns3::Ptr</text><text class="t" x="421" y="1419.5">&lt; const ns3::TcpSocketBase &gt; &gt;</text></g>
<g id="n67"><rect class="b" x="386" y="1432" width="71" height="18"/><text class="t" x="421.5" y="1439">ns3::TracedCallback</text><text class="t" x="421.5" y="1447">&lt; uint32_t, uint32_t &gt;</text></g>
<g id="n68"><rect class="b" x="386" y="1462" width="71" height="25"/><text class="t" x="421.5" y="1468">ns3::TracedCallback</text><text class="t" x="421.5" y="1476">&lt; ns3::DataRate, ns3</text><text class="t" x="421.5" y="1484">::DataRate &gt;</text></g>
<g id="n69"><rect class="b" x="364" y="1496" width="114" height="24"/><text class="t" x="421" y="1502">ns3::TracedCallback</text><text class="t" x="421" y="1510">&lt; TcpSocketState::TcpCongState</text><text class="t" x="421" y="1518">_t, TcpSocketState::TcpCongState_t &gt;</text></g>
<g id="n70"><rect class="b" x="371" y="1530" width="100" height="25"/><text class="t" x="421" y="1536">ns3::TracedCallback</text><text class="t" x="421" y="1544">&lt; TcpSocketState::EcnState</text><text class="t" x="421" y="1552">_t, TcpSocketState::EcnState_t &gt;</text></g>
</g>
</svg>
